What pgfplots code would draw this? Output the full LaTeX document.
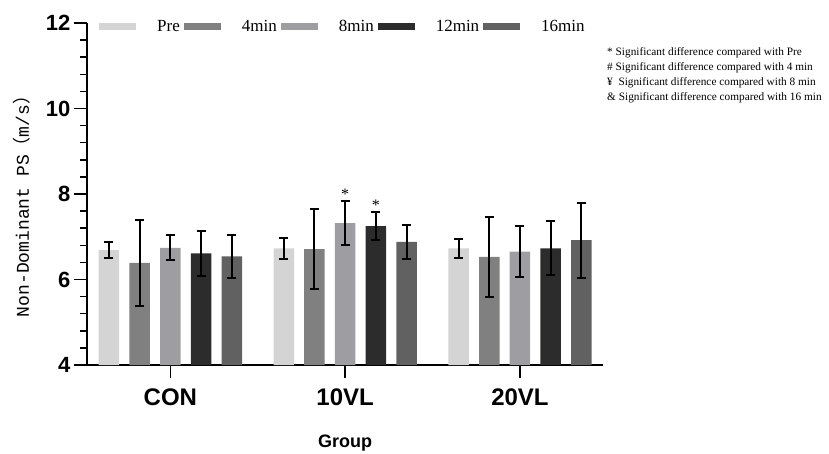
\documentclass[border=0pt]{standalone}
\usepackage{pgfplots}
\pgfplotsset{compat=1.18}
\usepackage{fontspec}
\setmainfont{Liberation Serif}
\setsansfont{Liberation Sans}
\newfontfamily\monof{Liberation Mono}
\newfontfamily\cjk{Noto Sans CJK SC}
\definecolor{cPre}{HTML}{D4D4D4}
\definecolor{cFour}{HTML}{808080}
\definecolor{cEight}{HTML}{9E9DA2}
\definecolor{cTwelve}{HTML}{2C2C2C}
\definecolor{cSixteen}{HTML}{616161}
\begin{document}
\begin{tikzpicture}
\path[use as bounding box] (0,0) rectangle (829pt,453pt);
\begin{axis}[
  at={(87pt,88pt)}, anchor=south west,
  width=516pt, height=342pt, scale only axis,
  xmin=-0.477, xmax=2.475, ymin=4, ymax=12,
  axis lines=left, axis line style={-, line width=1.8pt, black},
  ybar=10.2pt, bar width=20.5pt,
  xtick={0,1,2}, xticklabels={CON,10VL,20VL},
  ytick={4,6,8,10,12}, yticklabels={4,6,8,10,12},
  minor y tick num=4,
  tick align=outside,
  major tick length=13pt, minor tick length=7pt,
  tick style={line width=1.5pt, black},
  xticklabel style={font=\fontsize{24}{24}\selectfont\bfseries\sffamily, yshift=-7pt},
  yticklabel style={font=\fontsize{22}{22}\selectfont\bfseries\sffamily},
  ylabel={\monof Non-Dominant PS{\cjk （}m/s{\cjk ）}},
  ylabel style={at={(axis description cs:-0.126,0.477)}, anchor=center, font=\fontsize{18}{18}\selectfont},
  xlabel={Group},
  xlabel style={at={(axis description cs:0.5,-0.2418)}, anchor=base, font=\fontsize{18}{18}\selectfont\bfseries\sffamily},
  legend columns=5,
  legend image code/.code={\fill[#1,draw=none] (0pt,-3.5pt) rectangle (37pt,3.5pt);},
  legend style={at={(axis description cs:0.0233,0.99)}, anchor=west, draw=none, fill=none, inner sep=0pt,
    font=\fontsize{17}{17}\selectfont,
    /tikz/every odd column/.style={column sep=19pt},
    /tikz/every even column/.style={column sep=2pt}},
  error bars/y dir=both, error bars/y explicit,
  error bars/error bar style={line width=2pt, black},
  error bars/error mark options={rotate=90, mark size=4.5pt, line width=2pt, black},
]
\addplot[fill=cPre, draw=none] coordinates {(0,6.69) +- (0,0.19) (1,6.73) +- (0,0.24) (2,6.73) +- (0,0.22)};
\addplot[fill=cFour, draw=none] coordinates {(0,6.39) +- (0,1.00) (1,6.71) +- (0,0.93) (2,6.53) +- (0,0.94)};
\addplot[fill=cEight, draw=none] coordinates {(0,6.74) +- (0,0.29) (1,7.32) +- (0,0.52) (2,6.65) +- (0,0.59)};
\addplot[fill=cTwelve, draw=none] coordinates {(0,6.61) +- (0,0.52) (1,7.25) +- (0,0.33) (2,6.73) +- (0,0.63)};
\addplot[fill=cSixteen, draw=none] coordinates {(0,6.54) +- (0,0.51) (1,6.88) +- (0,0.40) (2,6.92) +- (0,0.88)};
\legend{Pre,4min,8min,12min,16min}
\node[font=\fontsize{16}{16}\selectfont] at (axis cs:1,8.0) {*};
\node[font=\fontsize{16}{16}\selectfont] at (axis cs:1.1756,7.73) {*};
\end{axis}
\begin{scope}[every node/.style={anchor=base west, inner sep=0pt, font=\fontsize{11.3}{13}\selectfont}]
\node at (607pt,397pt) {* Significant difference compared with Pre};
\node at (607pt,382pt) {\# Significant difference compared with 4 min};
\node at (607pt,367.5pt) {¥\ \ Significant difference compared with 8 min};
\node at (607pt,352.5pt) {\& Significant difference compared with 16 min};
\end{scope}
\end{tikzpicture}
\end{document}
